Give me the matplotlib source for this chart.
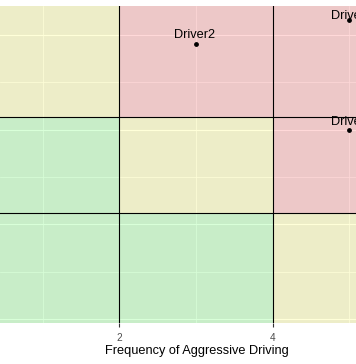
import matplotlib
matplotlib.use("Agg")
import matplotlib.pyplot as plt
from matplotlib.patches import Rectangle

plt.rcParams['font.family'] = ['Liberation Sans', 'DejaVu Sans']

# data
drivers = ["Driver", "Driver2", "Driver"]
frequency = [5, 3, 5]
severity = [4.16, 3.90, 3.0]

# zone thresholds
x_cuts = [2, 4]
y_cuts = [2.12, 3.13]
# zone colours, rows from bottom to top, columns left to right
zone_colors = [["green", "green", "yellow"],
               ["green", "yellow", "red"],
               ["yellow", "red", "red"]]
zone_rgb = {"green": "#00ff00", "yellow": "#ffff00", "red": "#ff0000"}

# label offsets (points above the dot)
label_offsets = [2.6, 6.7, 5.5]

xlim = (0.445, 5.086)
ylim = (0.955, 4.306)

fig = plt.figure(figsize=(3.56, 3.64), dpi=100)
ax = fig.add_axes([0, 0.1118, 1, 0.8717])
ax.set_facecolor('#EBEBEB')
for s in ax.spines.values():
    s.set_visible(False)

ax.set_xlim(*xlim)
ax.set_ylim(*ylim)

# grid
ax.set_xticks([2, 4])
ax.set_xticks([1, 3, 5], minor=True)
ax.set_yticks([1, 2, 3, 4])
ax.set_yticks([1.5, 2.5, 3.5], minor=True)
ax.set_axisbelow(True)
ax.grid(which='major', color='white', linewidth=0.8)
ax.grid(which='minor', color='white', linewidth=0.5)
ax.tick_params(axis='y', which='both', left=False, labelleft=False)
ax.tick_params(axis='x', which='minor', bottom=False)
ax.tick_params(axis='x', which='major', length=2.75, width=0.8, color='#333333',
               labelsize=7.2, labelcolor='#4D4D4D', pad=4)

# zones
xb = [xlim[0] - 1] + x_cuts + [xlim[1] + 1]
yb = [ylim[0] - 1] + y_cuts + [ylim[1] + 1]
for r in range(3):
    for c in range(3):
        ax.add_patch(Rectangle((xb[c], yb[r]), xb[c + 1] - xb[c], yb[r + 1] - yb[r],
                               facecolor=zone_rgb[zone_colors[r][c]], alpha=0.15,
                               edgecolor='none', zorder=1))

for xv in x_cuts:
    ax.axvline(xv, color='black', linewidth=0.8, zorder=2)
for yv in y_cuts:
    ax.axhline(yv, color='black', linewidth=0.8, zorder=2)

ax.scatter(frequency, severity, s=6, color='black', zorder=3)
for name, fx, sy, off in zip(drivers, frequency, severity, label_offsets):
    ax.annotate(name, (fx, sy), xytext=(-1, off), textcoords='offset points',
                ha='center', va='center', fontsize=9.2, color='black', zorder=4,
                annotation_clip=False)

ax.set_xlabel("Frequency of Aggressive Driving", fontsize=9.2, color='black')
ax.xaxis.set_label_coords(0.552, -0.0864)
ax.xaxis.label.set_va('center')

fig.savefig("out.png", dpi=100)
